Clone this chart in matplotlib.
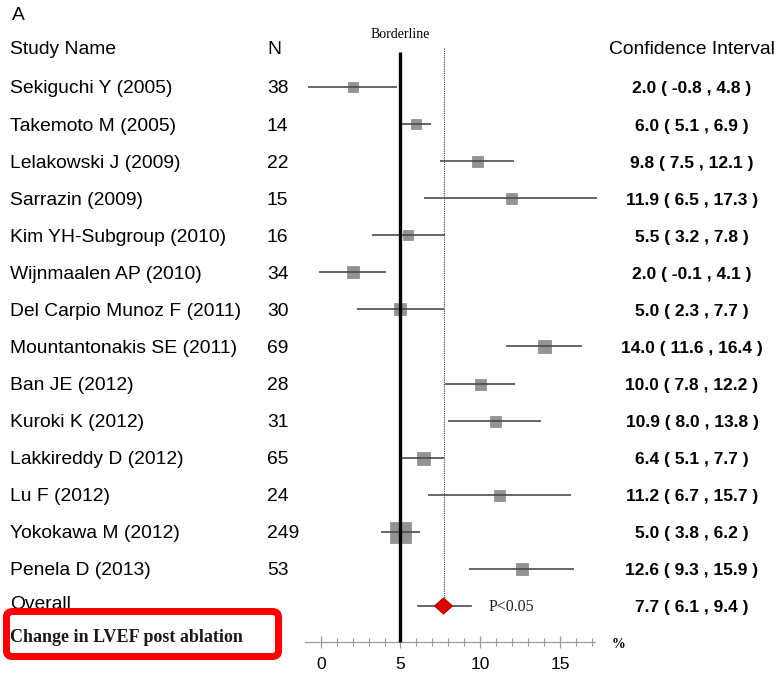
import numpy as np
import matplotlib
matplotlib.use("Agg")
import matplotlib.pyplot as plt
from matplotlib.transforms import blended_transform_factory
from matplotlib.patches import Polygon, FancyBboxPatch

# ---- data -------------------------------------------------------------
studies = [
    "Sekiguchi Y (2005)", "Takemoto M (2005)", "Lelakowski J (2009)",
    "Sarrazin (2009)", "Kim YH-Subgroup (2010)", "Wijnmaalen AP (2010)",
    "Del Carpio Munoz F (2011)", "Mountantonakis SE (2011)", "Ban JE (2012)",
    "Kuroki K (2012)", "Lakkireddy D (2012)", "Lu F (2012)",
    "Yokokawa M (2012)", "Penela D (2013)",
]
sample_sizes = [38, 14, 22, 15, 16, 34, 30, 69, 28, 31, 65, 24, 249, 53]
effect = [2.0, 6.0, 9.8, 11.9, 5.5, 2.0, 5.0, 14.0, 10.0, 10.9, 6.4, 11.2, 5.0, 12.6]
ci_low = [-0.8, 5.1, 7.5, 6.5, 3.2, -0.1, 2.3, 11.6, 7.8, 8.0, 5.1, 6.7, 3.8, 9.3]
ci_high = [4.8, 6.9, 12.1, 17.3, 7.8, 4.1, 7.7, 16.4, 12.2, 13.8, 7.7, 15.7, 6.2, 15.9]
overall_effect = 7.7
overall_low = 6.1
overall_high = 9.4
borderline = 5
x_major_ticks = [0, 5, 10, 15]
x_minor_ticks = [1, 2, 3, 4, 6, 7, 8, 9, 11, 12, 13, 14, 16, 17]

# ---- styling ----------------------------------------------------------
square_px = [10, 10, 11, 11, 10, 12, 12, 13, 11, 11, 13, 11, 21, 12]
SANS = ["Liberation Sans", "DejaVu Sans"]
SERIF = ["Liberation Serif", "DejaVu Serif"]
W, H = 778, 674
DPI = 100
PX = 72.0 / DPI  # points per pixel

# horizontal scale: 0 at x=320.7 px, 15.95 px per unit
x0_px, ppu = 320.7, 15.95
xmin, xmax = -0.96, 17.2
# vertical scale: row i centred at 87 + 37.07*i px
y0_px, ppr = 87.0, 37.07
ytop = -y0_px / ppr
ybot = (H - y0_px) / ppr
axis_row = (642 - y0_px) / ppr
text_shift = 2 / ppr  # labels sit slightly lower than their row centre

fig = plt.figure(figsize=(W / DPI, H / DPI), dpi=DPI)
left_px = x0_px + xmin * ppu
right_px = x0_px + xmax * ppu
ax = fig.add_axes([left_px / W, 0, (right_px - left_px) / W, 1])
ax.set_xlim(xmin, xmax)
ax.set_ylim(ybot, ytop)
ax.patch.set_alpha(0)

rows = np.arange(len(studies))
overall_row = len(studies)

# confidence interval lines and weighted squares
for r, e, lo, hi, s in zip(rows, effect, ci_low, ci_high, square_px):
    ax.plot([lo, hi], [r, r], color="#4a4a4a", lw=1.2, zorder=3,
            solid_capstyle="butt", clip_on=False)
    ax.plot([e], [r], marker="s", ms=s * PX, color="#939393",
            mec="#888888", mew=0.5, zorder=2, clip_on=False)

# borderline and pooled-estimate reference lines
ax.plot([borderline, borderline], [(52 - y0_px) / ppr, axis_row],
        color="black", lw=2.4, zorder=4, solid_capstyle="butt")
ax.plot([overall_effect, overall_effect], [(48 - y0_px) / ppr, overall_row - 0.2],
        color="#444444", lw=0.8, ls=(0, (1, 1)), zorder=1)

# overall estimate: CI line and red diamond
ax.plot([overall_low, overall_high], [overall_row, overall_row],
        color="#4a4a4a", lw=1.2, zorder=3)
hw, hh = 9 / ppu, 8 / ppr
diamond = Polygon([[overall_effect - hw, overall_row], [overall_effect, overall_row - hh],
                   [overall_effect + hw, overall_row], [overall_effect, overall_row + hh]],
                  closed=True, facecolor="#e00000", edgecolor="#b00000", lw=0.8, zorder=5)
ax.add_patch(diamond)
ax.annotate("P<0.05", xy=(overall_high, overall_row + text_shift / 2), xytext=(18 * PX, 0),
            textcoords="offset points", va="center", ha="left",
            fontsize=11.5, family=SERIF, color="#222222")

# bottom axis
for side in ("left", "right", "top"):
    ax.spines[side].set_visible(False)
ax.spines["bottom"].set_position(("data", axis_row))
ax.spines["bottom"].set_color("#9a9a9a")
ax.spines["bottom"].set_linewidth(0.9)
ax.set_yticks([])
ax.set_xticks(x_major_ticks)
ax.set_xticks(x_minor_ticks, minor=True)
ax.tick_params(axis="x", which="major", direction="inout", length=9, width=0.9,
               color="#9a9a9a", labelsize=12.5, pad=6.5)
ax.tick_params(axis="x", which="minor", direction="inout", length=6, width=0.8,
               color="#9a9a9a")
for lbl in ax.get_xticklabels():
    lbl.set_family(SANS)
ax.text(xmax + (612 - right_px) / ppu, axis_row + text_shift, "%", ha="left", va="center",
        fontsize=10, fontweight="bold", family=SERIF)

# text columns
tr = blended_transform_factory(fig.transFigure, ax.transData)
name_x, n_x, ci_x = 10 / W, 267 / W, 692 / W
NAME_FS, CI_FS = 13.9, 12.5
for r, name, n, e, lo, hi in zip(rows, studies, sample_sizes, effect, ci_low, ci_high):
    ax.text(name_x, r + text_shift, name, transform=tr, ha="left", va="center",
            fontsize=NAME_FS, family=SANS)
    ax.text(n_x, r + text_shift, str(n), transform=tr, ha="left", va="center",
            fontsize=NAME_FS, family=SANS)
    ax.text(ci_x, r + text_shift, f"{e:.1f} ( {lo:.1f} , {hi:.1f} )", transform=tr,
            ha="center", va="center", fontsize=CI_FS, fontweight="bold", family=SANS)

ax.text(name_x, overall_row - 0.05, "Overall", transform=tr, ha="left", va="center",
        fontsize=NAME_FS, family=SANS)
ax.text(ci_x, overall_row + text_shift,
        f"{overall_effect:.1f} ( {overall_low:.1f} , {overall_high:.1f} )",
        transform=tr, ha="center", va="center", fontsize=CI_FS, fontweight="bold", family=SANS)

header_row = (48 - y0_px) / ppr + text_shift
ax.text(12 / W, (14 - y0_px) / ppr + text_shift, "A", transform=tr, ha="left", va="center",
        fontsize=NAME_FS, family=SANS)
ax.text(name_x, header_row, "Study Name", transform=tr, ha="left", va="center",
        fontsize=NAME_FS, family=SANS)
ax.text(n_x, header_row, "N", transform=tr, ha="left", va="center",
        fontsize=NAME_FS, family=SANS)
ax.text(ci_x, header_row, "Confidence Interval", transform=tr, ha="center",
        va="center", fontsize=NAME_FS, family=SANS)
ax.text(borderline, (33 - y0_px) / ppr + text_shift, "Borderline", ha="center", va="center",
        fontsize=10, family=SERIF)

# outcome label inside red frame
fig.text(10 / W, 1 - 638 / H, "Change in LVEF post ablation", ha="left", va="center",
         fontsize=13, fontweight="bold", family=SERIF, color="#1a1a1a")
frame = FancyBboxPatch((6.5 / W, 1 - 656.5 / H), 272 / W, 45 / H,
                       boxstyle="round,pad=0,rounding_size=0.008",
                       transform=fig.transFigure, facecolor="none",
                       edgecolor="#ff0000", lw=7 * PX)
fig.patches.append(frame)

fig.savefig("out.png", dpi=DPI)
